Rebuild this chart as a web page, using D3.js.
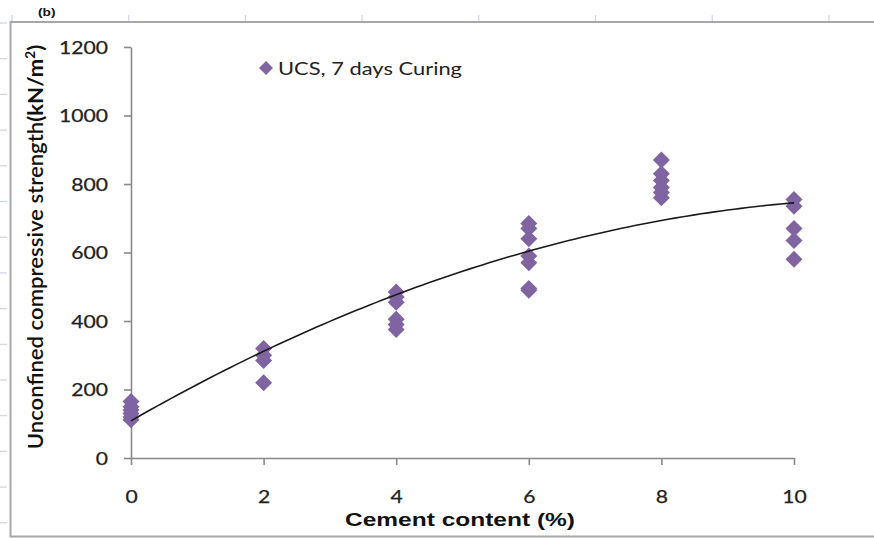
<!DOCTYPE html>
<html>
<head>
<meta charset="utf-8">
<script src="https://cdn.jsdelivr.net/npm/d3@7"></script>
<style>
  body { margin: 0; background: #fff; }
  svg { display: block; }
</style>
</head>
<body>
<svg id="chart" width="874" height="538"></svg>
<script>
// ---- data -------------------------------------------------------------
const cementLevels = [0, 2, 4, 6, 8, 10];          // cement content (%)
const ucsAt0  = [165, 150, 140, 130, 120, 112];    // kN/m², 7 days curing
const ucsAt2  = [320, 300, 285, 220];
const ucsAt4  = [485, 470, 455, 405, 390, 375];
const ucsAt6  = [685, 670, 640, 590, 570, 495, 490];
const ucsAt8  = [870, 830, 810, 790, 775, 760];
const ucsAt10 = [755, 735, 670, 635, 580];
const ucsSeries = [ucsAt0, ucsAt2, ucsAt4, ucsAt6, ucsAt8, ucsAt10];

const xTickValues = [0, 2, 4, 6, 8, 10];
const yTickValues = [0, 200, 400, 600, 800, 1000, 1200];
const seriesLabel = "UCS, 7 days Curing";
const xTitle = "Cement content (%)";
const panelLabel = "(b)";

// ---- layout -----------------------------------------------------------
const svg = d3.select("#chart");
const purple = "#8064a2";
const axisGrey = "#898989";
const labelFont = "Lato, 'Open Sans', sans-serif";

const x = d3.scaleLinear().domain([0, 10]).range([131, 794]);
const y = d3.scaleLinear().domain([0, 1200]).range([458, 47]);

// widen a text element horizontally by factor k
function widen(sel, k) {
  sel.each(function () {
    const w = this.getComputedTextLength();
    d3.select(this).attr("textLength", w * k).attr("lengthAdjust", "spacingAndGlyphs");
  });
}

// ---- outer frame with ruler marks ------------------------------------
const frame = svg.append("g");
frame.append("path")
  .attr("d", "M874,22 H10.5 V536.5 H874")
  .attr("fill", "none").attr("stroke", "#a8a8a8").attr("stroke-width", 2);
const rulerColor = "#cdd4e6";
d3.range(0, 15).forEach(k => {
  const yy = 23 + k * 35.7;
  if (yy < 530) frame.append("line").attr("x1", 0).attr("x2", 7)
    .attr("y1", yy).attr("y2", yy).attr("stroke", rulerColor).attr("stroke-width", 1.2);
});
d3.range(0, 8).forEach(k => {
  const xx = 12 + k * 116.7;
  frame.append("line").attr("x1", xx).attr("x2", xx)
    .attr("y1", 15).attr("y2", 21).attr("stroke", rulerColor).attr("stroke-width", 1.2);
});

svg.append("text")
  .attr("x", 38).attr("y", 16)
  .attr("font-family", "'Liberation Sans', Arial, sans-serif")
  .attr("font-weight", "bold").attr("font-size", 10.5)
  .attr("fill", "#111")
  .text(panelLabel)
  .call(widen, 1.3);

// ---- axes -------------------------------------------------------------
const yAxis = svg.append("g")
  .attr("transform", `translate(${x(0)},0)`)
  .call(d3.axisLeft(y).tickValues(yTickValues).tickSize(7).tickSizeOuter(0).tickPadding(16)
    .tickFormat(d3.format("d")));
const xAxis = svg.append("g")
  .attr("transform", `translate(0,${y(0)})`)
  .call(d3.axisBottom(x).tickValues(xTickValues).tickSize(7).tickSizeOuter(0)
    .tickFormat(d3.format("d")));

[yAxis, xAxis].forEach(a => {
  a.select(".domain").attr("stroke", axisGrey).attr("stroke-width", 1.6);
  a.selectAll(".tick line").attr("stroke", axisGrey).attr("stroke-width", 1.6);
  a.selectAll(".tick text")
    .attr("font-family", labelFont).attr("font-size", 17)
    .attr("fill", "#222")
    .attr("stroke", "#222").attr("stroke-width", 0.25);
});
yAxis.selectAll(".tick text").attr("dy", "0.36em");
xAxis.selectAll(".tick text").attr("dy", null).attr("y", 45);
yAxis.selectAll(".tick text").call(widen, 1.24);
xAxis.selectAll(".tick text").call(widen, 1.24);

// ---- axis titles ------------------------------------------------------
svg.append("text")
  .attr("x", 460).attr("y", 526)
  .attr("text-anchor", "middle")
  .attr("font-family", "'Liberation Sans', Arial, sans-serif")
  .attr("font-weight", "bold").attr("font-size", 17.5)
  .attr("fill", "#111")
  .text(xTitle)
  .attr("textLength", 230).attr("lengthAdjust", "spacingAndGlyphs");

const yTitleG = svg.append("g");
const yTitle = yTitleG.append("text")
  .attr("text-anchor", "middle")
  .attr("font-family", labelFont).attr("font-size", 18)
  .attr("fill", "#111");
yTitle.append("tspan").attr("font-weight", 600).text("Unconfined compressive strength");
yTitle.append("tspan").attr("font-weight", "bold").text("(kN/m");
yTitle.append("tspan").attr("font-weight", "bold").attr("font-size", 11)
  .attr("baseline-shift", "super").text("2");
yTitle.append("tspan").attr("font-weight", "bold").text(")");
const yTitleLen = yTitle.node().getBBox().width;
yTitleG.attr("transform", `translate(43,247) rotate(-90) scale(${405 / yTitleLen},1.2)`);

// ---- quadratic trendline (least squares) -----------------------------
const pts = [];
cementLevels.forEach((c, i) => ucsSeries[i].forEach(v => pts.push([c, v])));
function quadFit(data) {
  const S = [0, 0, 0, 0, 0], T = [0, 0, 0];
  data.forEach(([a, b]) => {
    for (let p = 0; p < 5; p++) S[p] += a ** p;
    for (let p = 0; p < 3; p++) T[p] += b * a ** p;
  });
  const M = [[S[0], S[1], S[2], T[0]], [S[1], S[2], S[3], T[1]], [S[2], S[3], S[4], T[2]]];
  for (let i = 0; i < 3; i++) {
    for (let r = i + 1; r < 3; r++) {
      const f = M[r][i] / M[i][i];
      for (let c = i; c < 4; c++) M[r][c] -= f * M[i][c];
    }
  }
  const coef = [0, 0, 0];
  for (let i = 2; i >= 0; i--) {
    let s = M[i][3];
    for (let c = i + 1; c < 3; c++) s -= M[i][c] * coef[c];
    coef[i] = s / M[i][i];
  }
  return coef;
}
const [c0, c1, c2] = quadFit(pts);
const trend = d3.range(0, 10.001, 0.1).map(t => [t, c0 + c1 * t + c2 * t * t]);

// ---- markers ----------------------------------------------------------
const diamond = "M0,-8.5 L8.5,0 L0,8.5 L-8.5,0 Z";
svg.append("g").selectAll("path")
  .data(pts)
  .join("path")
  .attr("d", diamond)
  .attr("transform", d => `translate(${x(d[0])},${y(d[1])})`)
  .attr("fill", purple);

svg.append("path")
  .datum(trend)
  .attr("d", d3.line().x(d => x(d[0])).y(d => y(d[1])))
  .attr("fill", "none").attr("stroke", "#1a1a1a").attr("stroke-width", 1.6);

// ---- legend -----------------------------------------------------------
svg.append("path").attr("d", "M0,-7 L7,0 L0,7 L-7,0 Z")
  .attr("transform", "translate(266,68)").attr("fill", purple);
svg.append("text")
  .attr("x", 278).attr("y", 75)
  .attr("font-family", labelFont).attr("font-size", 18)
  .attr("fill", "#222")
  .text(seriesLabel)
  .attr("textLength", 184).attr("lengthAdjust", "spacingAndGlyphs");
</script>
</body>
</html>
